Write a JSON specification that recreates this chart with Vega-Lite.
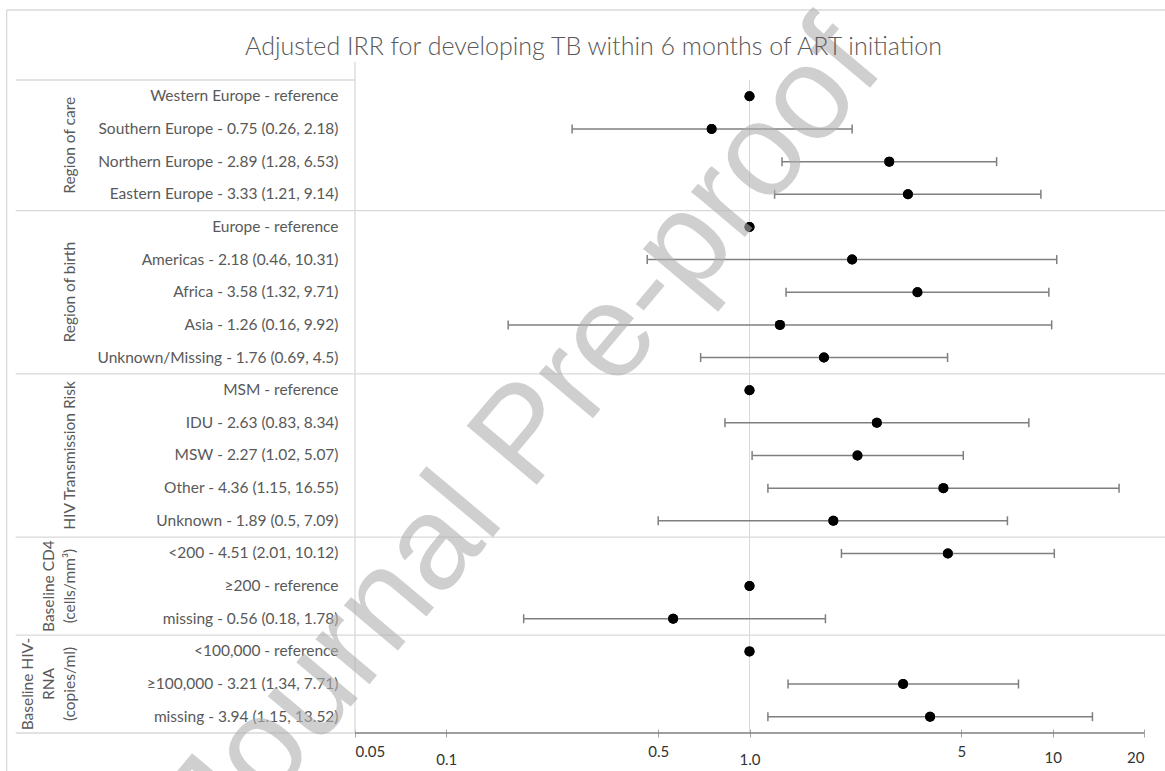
{
  "$schema": "https://vega.github.io/schema/vega-lite/v6.json",
  "width": 789,
  "height": 653,
  "autosize": {"type": "none"},
  "padding": {"left": 355, "top": 80, "right": 21, "bottom": 38},
  "background": "white",
  "title": {
    "text": "Adjusted IRR for developing TB within 6 months of ART initiation",
    "font": "Lato",
    "fontSize": 25,
    "fontWeight": 300,
    "color": "#595959",
    "anchor": "middle",
    "baseline": "alphabetic",
    "dx": -156,
    "offset": -80
  },
  "config": {"view": {"stroke": null}, "font": "Lato"},
  "datasets": {
    "irr": [
      {"group": "Region of care", "label": "Western Europe - reference", "irr": 1},
      {"group": "Region of care", "label": "Southern Europe - 0.75 (0.26, 2.18)", "irr": 0.75, "lo": 0.26, "hi": 2.18},
      {"group": "Region of care", "label": "Northern Europe - 2.89 (1.28, 6.53)", "irr": 2.89, "lo": 1.28, "hi": 6.53},
      {"group": "Region of care", "label": "Eastern Europe - 3.33 (1.21, 9.14)", "irr": 3.33, "lo": 1.21, "hi": 9.14},
      {"group": "Region of birth", "label": "Europe - reference", "irr": 1},
      {"group": "Region of birth", "label": "Americas - 2.18 (0.46, 10.31)", "irr": 2.18, "lo": 0.46, "hi": 10.31},
      {"group": "Region of birth", "label": "Africa - 3.58 (1.32, 9.71)", "irr": 3.58, "lo": 1.32, "hi": 9.71},
      {"group": "Region of birth", "label": "Asia - 1.26 (0.16, 9.92)", "irr": 1.26, "lo": 0.16, "hi": 9.92},
      {"group": "Region of birth", "label": "Unknown/Missing - 1.76 (0.69, 4.5)", "irr": 1.76, "lo": 0.69, "hi": 4.5},
      {"group": "HIV Transmission Risk", "label": "MSM - reference", "irr": 1},
      {"group": "HIV Transmission Risk", "label": "IDU - 2.63 (0.83, 8.34)", "irr": 2.63, "lo": 0.83, "hi": 8.34},
      {"group": "HIV Transmission Risk", "label": "MSW - 2.27 (1.02, 5.07)", "irr": 2.27, "lo": 1.02, "hi": 5.07},
      {"group": "HIV Transmission Risk", "label": "Other - 4.36 (1.15, 16.55)", "irr": 4.36, "lo": 1.15, "hi": 16.55},
      {"group": "HIV Transmission Risk", "label": "Unknown - 1.89 (0.5, 7.09)", "irr": 1.89, "lo": 0.5, "hi": 7.09},
      {"group": "Baseline CD4\n(cells/mm³)", "label": "<200 - 4.51 (2.01, 10.12)", "irr": 4.51, "lo": 2.01, "hi": 10.12},
      {"group": "Baseline CD4\n(cells/mm³)", "label": "≥200  - reference", "irr": 1},
      {"group": "Baseline CD4\n(cells/mm³)", "label": "missing - 0.56 (0.18, 1.78)", "irr": 0.56, "lo": 0.18, "hi": 1.78},
      {"group": "Baseline HIV-\nRNA\n(copies/ml)", "label": "<100,000 - reference", "irr": 1},
      {"group": "Baseline HIV-\nRNA\n(copies/ml)", "label": "≥100,000 - 3.21 (1.34, 7.71)", "irr": 3.21, "lo": 1.34, "hi": 7.71},
      {"group": "Baseline HIV-\nRNA\n(copies/ml)", "label": "missing - 3.94 (1.15, 13.52)", "irr": 3.94, "lo": 1.15, "hi": 13.52}
    ]
  },
  "layer": [
    {
      "layer": [
        {
          "data": {"values": [{}]},
          "mark": {"type": "rule", "color": "#d9d9d9", "strokeWidth": 1},
          "encoding": {"x": {"datum": 1, "type": "quantitative"}}
        },
        {
          "data": {"name": "irr"},
          "transform": [{"window": [{"op": "row_number", "as": "rn"}], "groupby": ["group"]}],
          "layer": [
            {
              "mark": {"type": "point", "filled": true, "color": "black", "size": 100, "opacity": 1},
              "encoding": {
                "y": {
                  "field": "label", "type": "nominal", "sort": null, "title": null,
                  "scale": {"paddingInner": 0, "paddingOuter": 0},
                  "axis": {"domain": false, "ticks": false, "grid": false, "labelPadding": 17, "labelFontSize": 15.5, "labelColor": "#595959", "labelFont": "Lato", "labelLimit": 400}
                },
                "x": {
                  "field": "irr", "type": "quantitative", "title": null,
                  "scale": {"type": "log", "domain": [0.05, 20], "nice": false},
                  "axis": {
                    "values": [0.05, 0.1, 0.5, 1, 5, 10, 20],
                    "labelExpr": "datum.value == 1 ? '1.0' : format(datum.value, '~g')",
                    "domain": false,
                    "grid": false,
                    "offset": -4,
                    "tickSize": 8,
                    "tickColor": "#a6a6a6",
                    "labelFontSize": 15,
                    "labelColor": "#333333",
                    "labelFont": "Lato",
                    "labelPadding": {"condition": [{"test": "datum.value == 0.1 || datum.value == 1", "value": 15}, {"test": "datum.value == 10 || datum.value == 20", "value": 13}], "value": 7}
                  }
                }
              }
            },
            {
              "mark": {"type": "rule", "color": "#7f7f7f", "strokeWidth": 1.5},
              "encoding": {
                "y": {"field": "label", "type": "nominal", "sort": null},
                "x": {"field": "lo", "type": "quantitative", "title": null},
                "x2": {"field": "hi"}
              }
            },
            {
              "mark": {"type": "tick", "color": "#7f7f7f", "thickness": 1.5, "size": 9, "opacity": 1},
              "encoding": {
                "y": {"field": "label", "type": "nominal", "sort": null},
                "x": {"field": "lo", "type": "quantitative", "title": null}
              }
            },
            {
              "mark": {"type": "tick", "color": "#7f7f7f", "thickness": 1.5, "size": 9, "opacity": 1},
              "encoding": {
                "y": {"field": "label", "type": "nominal", "sort": null},
                "x": {"field": "hi", "type": "quantitative", "title": null}
              }
            },
            {
              "mark": {"type": "point", "filled": true, "color": "black", "size": 100, "opacity": 1},
              "encoding": {
                "y": {"field": "label", "type": "nominal", "sort": null},
                "x": {"field": "irr", "type": "quantitative", "title": null}
              }
            },
            {
              "mark": {"type": "rule", "color": "#d9d9d9", "strokeWidth": 1.3},
              "encoding": {
                "y": {"field": "label", "type": "nominal", "sort": null, "bandPosition": 0},
                "x": {"datum": 0.0038, "type": "quantitative"},
                "x2": {"datum": 24},
                "strokeOpacity": {"condition": {"test": "datum.rn == 1 && datum.group != 'Region of care'", "value": 1}, "value": 0}
              }
            }
          ]
        }
      ]
    },
    {
      "layer": [
        {
          "data": {"values": [{}]},
          "layer": [
            {
              "mark": {"type": "rule", "color": "#d9d9d9", "strokeWidth": 1.3},
              "encoding": {
                "x": {"datum": 0.05, "type": "quantitative"},
                "y": {"datum": -0.05, "type": "quantitative", "scale": {"domain": [0.5, 20.5], "reverse": true, "nice": false, "zero": false}, "axis": null},
                "y2": {"datum": 20.5}
              }
            },
            {
              "mark": {"type": "rule", "color": "#d9d9d9", "strokeWidth": 1.3},
              "encoding": {
                "x": {"datum": 0.00355, "type": "quantitative"},
                "x2": {"datum": 24},
                "y": {"datum": -1.644, "type": "quantitative", "axis": null}
              }
            },
            {
              "mark": {"type": "rule", "color": "#d9d9d9", "strokeWidth": 1.3},
              "encoding": {
                "x": {"datum": 0.00355, "type": "quantitative"},
                "y": {"datum": -1.644, "type": "quantitative", "axis": null},
                "y2": {"datum": 22}
              }
            },
            {
              "mark": {"type": "rule", "color": "#d9d9d9", "strokeWidth": 1.3},
              "encoding": {
                "x": {"datum": 0.0038, "type": "quantitative"},
                "x2": {"datum": 0.05},
                "y": {"datum": 0.5, "type": "quantitative", "axis": null}
              }
            },
            {
              "mark": {"type": "rule", "color": "#d9d9d9", "strokeWidth": 1.3},
              "encoding": {
                "x": {"datum": 0.0038, "type": "quantitative"},
                "x2": {"datum": 0.05},
                "y": {"datum": 20.5, "type": "quantitative", "axis": null}
              }
            },
            {
              "mark": {"type": "rule", "color": "#7f7f7f", "strokeWidth": 1.3},
              "encoding": {
                "x": {"datum": 0.05, "type": "quantitative"},
                "x2": {"datum": 20},
                "y": {"datum": 20.5, "type": "quantitative", "axis": null}
              }
            }
          ]
        },
        {
          "data": {"name": "irr"},
          "transform": [
            {"window": [{"op": "row_number", "as": "rn"}]},
            {"aggregate": [{"op": "mean", "field": "rn", "as": "mid"}], "groupby": ["group"]}
          ],
          "layer": [
            {
              "transform": [{"filter": "length(split(datum.group, '\\n')) == 1"}],
              "mark": {"type": "text", "angle": 270, "align": "center", "baseline": "bottom", "fontSize": 15.5, "font": "Lato", "color": "#595959", "lineBreak": "\n", "lineHeight": 21},
              "encoding": {
                "text": {"field": "group"},
                "x": {"datum": 0.00608, "type": "quantitative"},
                "y": {"field": "mid", "type": "quantitative", "axis": null}
              }
            },
            {
              "transform": [{"filter": "length(split(datum.group, '\\n')) == 2"}],
              "mark": {"type": "text", "angle": 270, "align": "center", "baseline": "bottom", "fontSize": 15.5, "font": "Lato", "color": "#595959", "lineBreak": "\n", "lineHeight": 21},
              "encoding": {
                "text": {"field": "group"},
                "x": {"datum": 0.00519, "type": "quantitative"},
                "y": {"field": "mid", "type": "quantitative", "axis": null}
              }
            },
            {
              "transform": [{"filter": "length(split(datum.group, '\\n')) == 3"}],
              "mark": {"type": "text", "angle": 270, "align": "center", "baseline": "bottom", "fontSize": 15.5, "font": "Lato", "color": "#595959", "lineBreak": "\n", "lineHeight": 21},
              "encoding": {
                "text": {"field": "group"},
                "x": {"datum": 0.00442, "type": "quantitative"},
                "y": {"field": "mid", "type": "quantitative", "axis": null}
              }
            }
          ]
        },
        {
          "data": {"values": [{"wm": "Journal Pre-proof"}]},
          "mark": {"type": "text", "angle": 310, "align": "center", "baseline": "alphabetic", "fontSize": 133, "font": "Liberation Sans", "color": "#b0b0b0", "opacity": 0.6},
          "encoding": {
            "text": {"field": "wm"},
            "x": {"datum": 0.23, "type": "quantitative"},
            "y": {"datum": 12.2, "type": "quantitative", "axis": null}
          }
        }
      ]
    }
  ],
  "resolve": {"scale": {"y": "independent"}}
}
